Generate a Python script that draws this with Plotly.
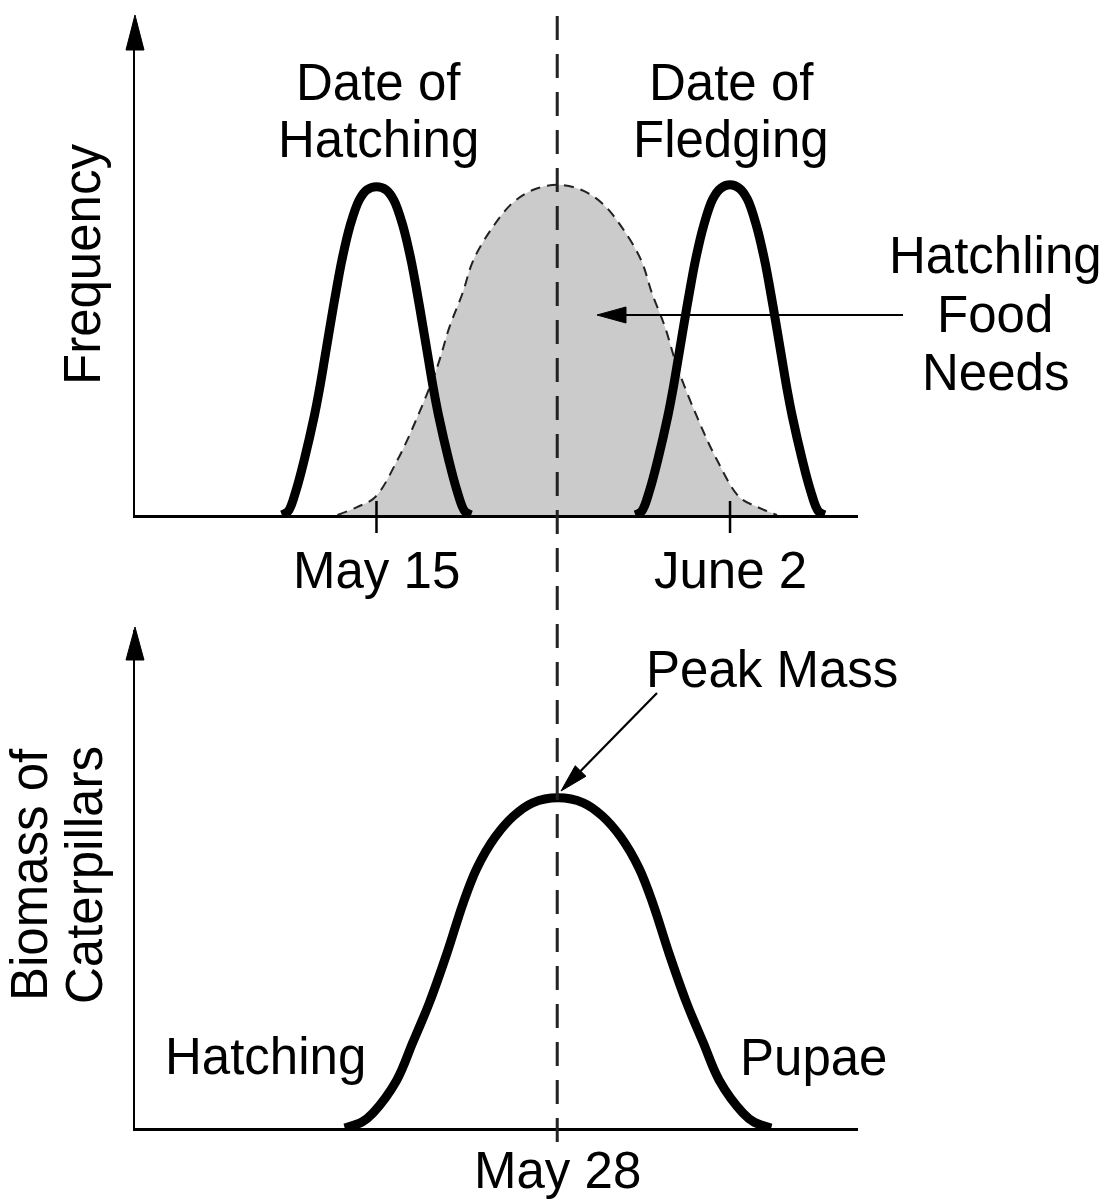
import plotly.graph_objects as go

W, H = 1106, 1200
FONT = "Liberation Sans, Arial, Helvetica, sans-serif"
FS = 51

# ---- data (schematic units: x 0-100 along the date axis, y 0-100 frequency / biomass) ----
TICK_VALUES = [33.4, 82.3]
TICK_LABELS = ["May 15", "June 2"]
PEAK_DATE = 58.4
PEAK_LABEL = "May 28"

hatch_x = [20.3, 21.2, 22.3, 23.4, 24.8, 25.5, 26.2, 26.83, 27.43, 28.02, 28.62, 29.7, 31.0, 32.1, 33.4,
           34.7, 35.8, 37.1, 38.18, 38.78, 39.37, 39.97, 40.6, 41.3, 42.0, 43.4, 44.5, 45.6, 46.5]
hatch_y = [0, 0.8, 5.1, 11.1, 20.0, 25.3, 31.3, 36.8, 42.0, 46.9, 51.5, 58.2, 63.6, 65.7, 66.3,
           65.7, 63.6, 58.2, 51.5, 46.9, 42.0, 36.8, 31.3, 25.3, 20.0, 11.1, 5.1, 0.8, 0]

fledge_x = [69.2, 70.1, 71.2, 72.3, 73.7, 74.4, 75.1, 75.73, 76.33, 76.92, 77.52, 78.6, 79.9, 81.0, 82.3,
            83.6, 84.7, 86.0, 87.08, 87.68, 88.27, 88.87, 89.5, 90.2, 90.9, 92.3, 93.4, 94.5, 95.4]
fledge_y = [0, 0.8, 5.1, 11.1, 20.0, 25.3, 31.3, 36.8, 42.0, 46.9, 51.5, 58.2, 63.8, 66.0, 66.7,
            66.0, 63.8, 58.2, 51.5, 46.9, 42.0, 36.8, 31.3, 25.3, 20.0, 11.1, 5.1, 0.8, 0]

food_x = [28.0, 30.7, 33.2, 36.3, 39.0, 41.8, 43.5, 45.3, 46.8, 49.5, 52.2, 55.1, 58.4,
          61.7, 64.6, 67.3, 70.0, 71.5, 73.3, 75.0, 77.8, 80.5, 83.6, 86.1, 88.8]
food_y = [0, 1.6, 3.6, 11.1, 19.6, 29.9, 38.0, 44.8, 51.5, 58.2, 63.0, 65.7, 66.7,
          65.7, 63.0, 58.2, 51.5, 44.8, 38.0, 29.9, 19.6, 11.1, 3.6, 1.6, 0]

biomass_x = [29.0, 31.4, 32.9, 36.2, 38.4, 40.7, 43.1, 45.4, 47.3, 49.8, 52.4, 55.0, 58.5,
             62.0, 64.6, 67.2, 69.7, 71.6, 73.9, 76.3, 78.6, 80.8, 84.1, 85.6, 88.0]
biomass_y = [0, 1.2, 3.0, 9.6, 17.1, 25.1, 34.9, 45.2, 52.2, 58.4, 62.7, 65.3, 66.3,
             65.3, 62.7, 58.4, 52.2, 45.2, 34.9, 25.1, 17.1, 9.6, 3.0, 1.2, 0]


def px(x):
    return x / W


def py(y):
    return 1 - y / H


fig = go.Figure()

# top panel
fig.add_trace(go.Scatter(x=food_x, y=food_y, mode="lines", fill="tozeroy",
                         fillcolor="#cbcbcb",
                         line=dict(color="#222", width=2, dash="10px,7px", shape="spline"),
                         xaxis="x", yaxis="y", hoverinfo="skip"))
fig.add_trace(go.Scatter(x=hatch_x, y=hatch_y, mode="lines",
                         line=dict(color="black", width=9, shape="spline", smoothing=1),
                         xaxis="x", yaxis="y", hoverinfo="skip"))
fig.add_trace(go.Scatter(x=fledge_x, y=fledge_y, mode="lines",
                         line=dict(color="black", width=9, shape="spline", smoothing=1),
                         xaxis="x", yaxis="y", hoverinfo="skip"))
# bottom panel
fig.add_trace(go.Scatter(x=biomass_x, y=biomass_y, mode="lines",
                         line=dict(color="black", width=9, shape="spline", smoothing=1),
                         xaxis="x2", yaxis="y2", hoverinfo="skip"))

xdom = [135 / W, 858 / W]
axis_common = dict(showgrid=False, zeroline=False, showticklabels=False, ticks="",
                   showline=True, linecolor="black", linewidth=2.5, fixedrange=True)
fig.update_layout(
    width=W, height=H, margin=dict(l=0, r=0, t=0, b=0),
    paper_bgcolor="white", plot_bgcolor="white", showlegend=False,
    font=dict(family=FONT, size=FS, color="black"),
    xaxis=dict(domain=xdom, range=[0, 100], anchor="y", **axis_common),
    yaxis=dict(domain=[py(515), py(20)], range=[0, 100], anchor="x", **axis_common),
    xaxis2=dict(domain=xdom, range=[0, 100], anchor="y2", **axis_common),
    yaxis2=dict(domain=[py(1128), py(630)], range=[0, 100], anchor="x2", **axis_common),
)

shapes = []
# vertical dashed line at peak date
shapes.append(dict(type="line", xref="x", yref="paper", x0=PEAK_DATE, x1=PEAK_DATE,
                   y0=py(1142), y1=py(10), line=dict(color="#222", width=3, dash="24px,14px")))
# ticks on top axis
for tv in TICK_VALUES:
    shapes.append(dict(type="line", xref="x", yref="paper", x0=tv, x1=tv,
                       y0=py(533), y1=py(501), line=dict(color="black", width=2.5)))


def tri(tip, base_c, half):
    (tx, ty), (bx, by) = tip, base_c
    dx, dy = tx - bx, ty - by
    L = (dx * dx + dy * dy) ** 0.5
    nx, ny = -dy / L * half, dx / L * half
    pts = [(tx, ty), (bx + nx, by + ny), (bx - nx, by - ny)]
    path = "M " + " L ".join(f"{px(a):.5f},{py(b):.5f}" for a, b in pts) + " Z"
    return dict(type="path", xref="paper", yref="paper", path=path,
                fillcolor="black", line=dict(color="black", width=1))


# axis arrowheads
shapes.append(tri((135, 15), (135, 50), 9))
shapes.append(tri((135, 627), (135, 660), 9))
# Hatchling Food Needs arrow
shapes.append(dict(type="line", xref="paper", yref="paper", x0=px(903), x1=px(615),
                   y0=py(315), y1=py(315), line=dict(color="black", width=2.2)))
shapes.append(tri((597, 315), (626, 315), 8))
# Peak Mass arrow
sx, sy, tx, ty = 657, 693, 561, 791
L = ((tx - sx) ** 2 + (ty - sy) ** 2) ** 0.5
ux, uy = (tx - sx) / L, (ty - sy) / L
shapes.append(dict(type="line", xref="paper", yref="paper", x0=px(sx), x1=px(tx - 20 * ux),
                   y0=py(sy), y1=py(ty - 20 * uy), line=dict(color="black", width=2.2)))
shapes.append(tri((tx, ty), (tx - 28 * ux, ty - 28 * uy), 7.5))
fig.update_layout(shapes=shapes)

ann = []


def text_at(t, x, y, angle=0):
    ann.append(dict(text=t, x=px(x), y=py(y), xref="paper", yref="paper",
                    xanchor="center", yanchor="middle", showarrow=False,
                    textangle=angle, font=dict(family=FONT, size=FS, color="black")))


text_at("Date of", 378, 82)
text_at("Hatching", 378, 139)
text_at("Date of", 731, 82)
text_at("Fledging", 731, 139)
text_at("Hatchling", 995, 255)
text_at("Food", 995, 314)
text_at("Needs", 995, 372)
text_at("Peak Mass", 772, 669)
text_at("Hatching", 265, 1056)
text_at("Pupae", 813, 1057)
text_at("Frequency", 82, 265, -90)
text_at("Biomass of", 29, 875, -90)
text_at("Caterpillars", 84, 875, -90)

for tv, tl in zip(TICK_VALUES, TICK_LABELS):
    ann.append(dict(text=tl, x=tv, y=py(570), xref="x", yref="paper",
                    xanchor="center", yanchor="middle", showarrow=False,
                    font=dict(family=FONT, size=FS, color="black")))
ann.append(dict(text=PEAK_LABEL, x=PEAK_DATE, y=py(1170), xref="x2", yref="paper",
                xanchor="center", yanchor="middle", showarrow=False,
                font=dict(family=FONT, size=FS, color="black")))
fig.update_layout(annotations=ann)

fig.write_html("out.html", config={"displayModeBar": False, "staticPlot": True},
               post_script="document.body.style.margin='0px';document.body.style.overflow='hidden';")
